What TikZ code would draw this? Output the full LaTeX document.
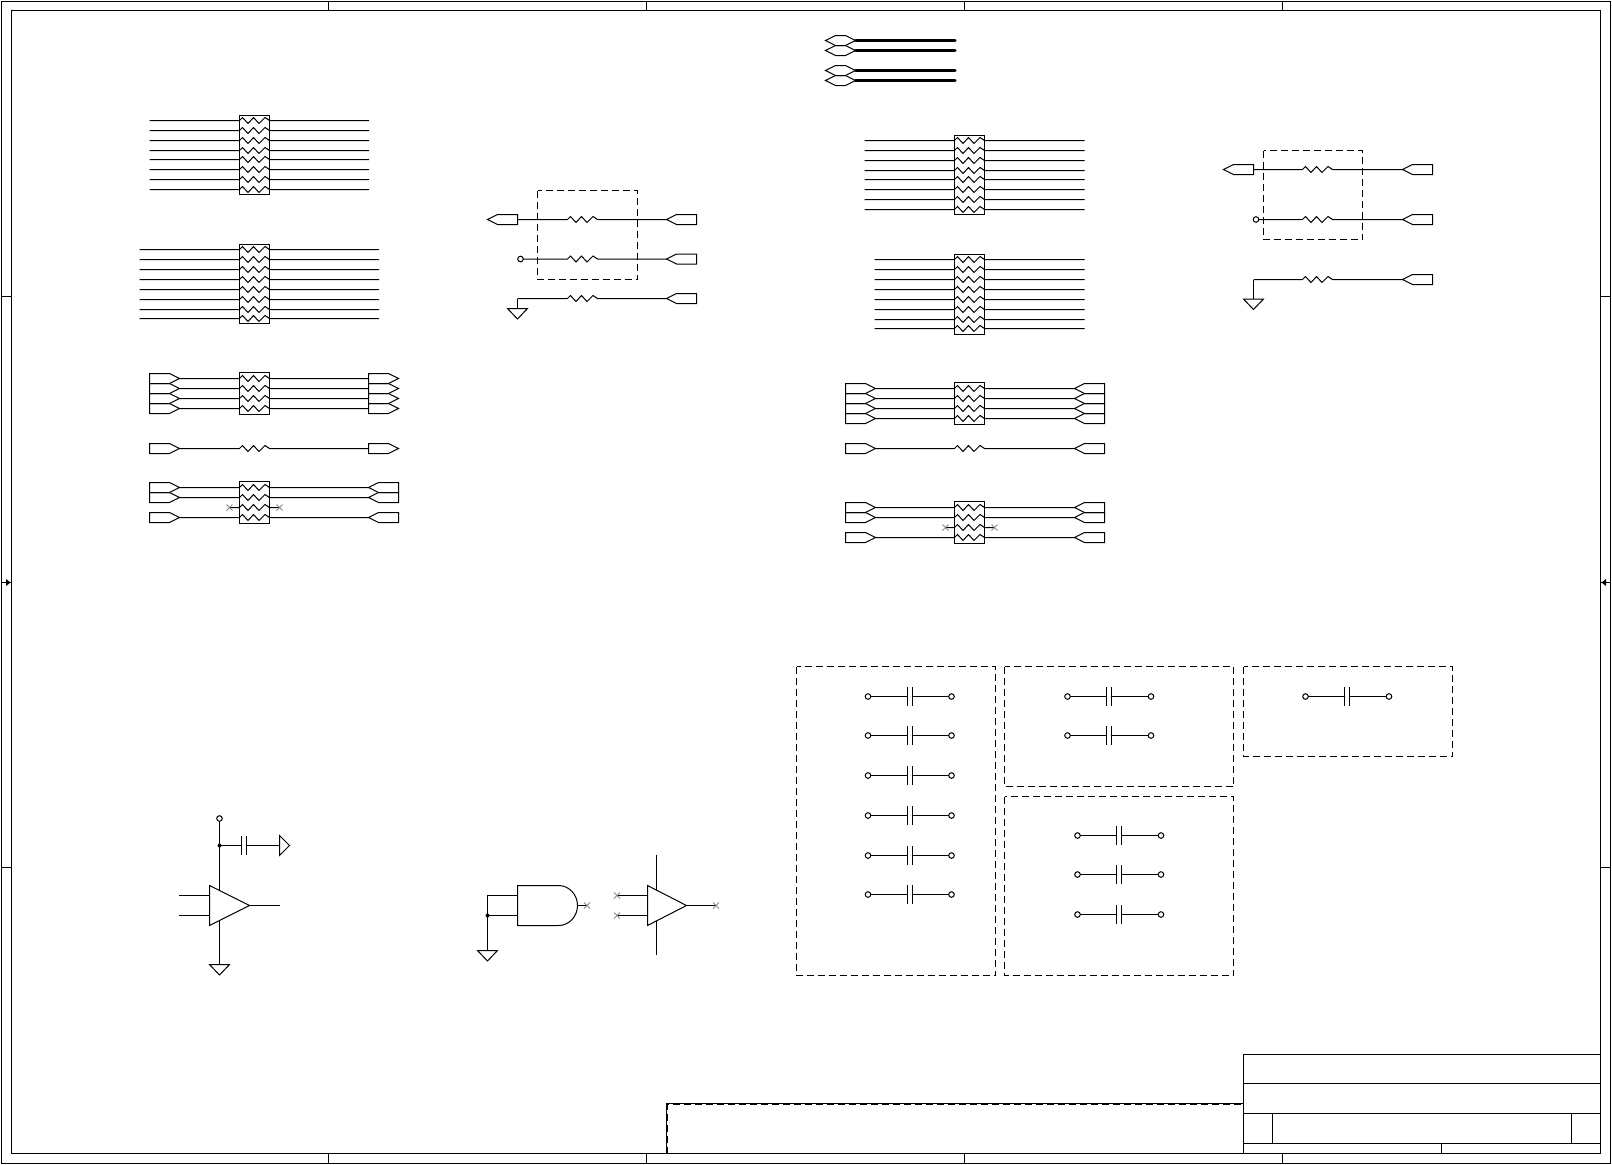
\documentclass[tikz,border=0pt]{standalone}
\tikzset{
  wire/.style={line width=0.5pt,black,line cap=butt,line join=miter},
  sym/.style={wire},
  bold/.style={line width=1.5pt,black,line cap=round},
  dashbox/.style={line width=0.5pt,black,dash pattern=on 3.5pt off 2pt},
  ncx/.style={line width=0.4pt,black!45},
  pin/.style={wire,fill=white},
  dotj/.style={black,fill=black}
}
\newcommand\zig{ -- ++(3,-3) -- ++(5.5,6) -- ++(5.5,-6) -- ++(5.5,6) -- ++(6,-6) -- ++(4.5,3)}
% name, wire start x, resistor start x, wire end x, y
\newcommand\RRow[5]{%
  \coordinate (#1-a) at (#2,#5);
  \coordinate (#1-r) at (#3,#5);
  \coordinate (#1-b) at (#4,#5);
  \draw[wire] (#1-a) -- (#1-r) \zig -- (#1-b);}
\newcommand\PortR[2]{\draw[sym] (#1,#2) ++(0,-5) -- ++(20,0) -- ++(10,5) -- ++(-10,5) -- ++(-20,0) -- cycle;}
\newcommand\PortL[2]{\draw[sym] (#1,#2) -- ++(10,-5) -- ++(20,0) -- ++(0,10) -- ++(-20,0) -- cycle;}
\newcommand\PortH[2]{\draw[sym] (#1,#2) -- ++(10,-5) -- ++(10,0) -- ++(10,5) -- ++(-10,5) -- ++(-10,0) -- cycle;}
\newcommand\Gnd[2]{\draw[sym] (#1,#2) ++(-10,0) -- ++(20,0) -- ++(-10,10.5) -- cycle;}
\newcommand\XMark[2]{\draw[ncx] (#1,#2) ++(-3,-3) -- ++(6,6) ++(-6,0) -- ++(6,-6);}
\newcommand\Pin[2]{\draw[pin] (#1,#2) circle[radius=1.4pt];}
% name, left pin x, y
\newcommand\CapRow[3]{%
  \coordinate (#1-l) at (#2,#3);
  \coordinate (#1-p) at ({#2+39},#3);
  \coordinate (#1-q) at ({#2+44},#3);
  \coordinate (#1-r) at ({#2+83.5},#3);
  \draw[wire] (#1-l) -- (#1-p) (#1-q) -- (#1-r);
  \draw[wire] (#1-p) ++(0,-9.5) -- ++(0,19) (#1-q) ++(0,-9.5) -- ++(0,19);
  \Pin{#2}{#3}\Pin{#2+83.5}{#3}}
\begin{document}
\begin{tikzpicture}[x=0.5pt,y=-0.5pt]
\useasboundingbox (0,0) rectangle (1612,1164);
\fill[white] (0,0) rectangle (1612,1164);
% frame
\draw[wire] (1.5,1.5) rectangle (1610.5,1163.5);
\draw[wire] (11.5,10.5) rectangle (1600.5,1153.5);
\foreach \x in {328.5,646.5,964.5,1282.5}{
  \draw[wire] (\x,1.5) -- (\x,10.5);
  \draw[wire] (\x,1153.5) -- (\x,1163.5);}
\foreach \y in {296.5,867.5}{
  \draw[wire] (1.5,\y) -- (11.5,\y);
  \draw[wire] (1600.5,\y) -- (1610.5,\y);}
\draw[wire] (1.5,582.5) -- (11.5,582.5);
\draw[wire] (1600.5,582.5) -- (1610.5,582.5);
\fill[black] (6,579) -- (10.5,582.5) -- (6,586) -- cycle;
\fill[black] (1606,579) -- (1601.5,582.5) -- (1606,586) -- cycle;
% title block
\draw[wire] (1243.5,1153.5) -- (1243.5,1054.5) -- (1600.5,1054.5);
\draw[wire] (1243.5,1083.5) -- (1600.5,1083.5);
\draw[wire] (1243.5,1113.5) -- (1600.5,1113.5);
\draw[wire] (1243.5,1143.5) -- (1600.5,1143.5);
\draw[wire] (1272.5,1113.5) -- (1272.5,1143.5);
\draw[wire] (1571.5,1113.5) -- (1571.5,1143.5);
\draw[wire] (1441.5,1143.5) -- (1441.5,1153.5);
\draw[wire] (666.5,1153.5) -- (666.5,1103.5) -- (1243.5,1103.5);
\draw[line width=0.8pt,dash pattern=on 3.5pt off 2pt] (667.4,1153.5) -- (667.4,1104.4) -- (1243.5,1104.4);
% top bold ports
\foreach \n/\y in {a/40.5,b/50.5,c/70.5,d/80.5}{
  \PortH{825.5}{\y}
  \coordinate (h\n-a) at (855.5,\y);
  \coordinate (h\n-b) at (955,\y);
  \draw[bold] (h\n-a) -- (h\n-b);}
% left plain buses
\draw[wire] (239.5,115.5) rectangle (269.5,194.5);
\foreach \y [count=\i] in {120.5,130.5,140.5,150.5,159.5,169.5,179.5,189.5}
  {\RRow{ba\i}{149.5}{239.5}{369}{\y}}
\draw[wire] (239.5,244.5) rectangle (269.5,323.5);
\foreach \y [count=\i] in {249.5,259.5,269.5,279.5,289.5,299.5,309.5,318.5}
  {\RRow{bb\i}{139.5}{239.5}{379}{\y}}
% left port bus
\draw[wire] (239.5,372.5) rectangle (269.5,414.5);
\foreach \y [count=\i] in {378.5,388.5,398.5,408.5}{
  \PortR{149.5}{\y}\PortR{368.5}{\y}
  \RRow{bc\i}{179.5}{239.5}{368.5}{\y}}
\PortR{149.5}{448.5}\PortR{368.5}{448.5}
\RRow{bd}{179.5}{239.5}{368.5}{448.5}
\draw[wire] (239.5,481.5) rectangle (269.5,523.5);
\foreach \y [count=\i] in {487.5,497.5,517.5}{
  \PortR{149.5}{\y}\PortL{368.5}{\y}
  \RRow{be\i}{179.5}{239.5}{368.5}{\y}}
\RRow{ben}{229.5}{239.5}{279.5}{507.5}
\XMark{229.5}{507.5}\XMark{279.5}{507.5}
% right plain buses
\draw[wire] (954.5,135.5) rectangle (984.5,214.5);
\foreach \y [count=\i] in {140.5,150.5,160.5,170.5,179.5,189.5,199.5,209.5}
  {\RRow{ca\i}{864.5}{954.5}{1084.5}{\y}}
\draw[wire] (954.5,254.5) rectangle (984.5,334.5);
\foreach \y [count=\i] in {259.5,269.5,279.5,289.5,299.5,309.5,319.5,328.5}
  {\RRow{cb\i}{874.5}{954.5}{1084.5}{\y}}
% right port bus
\draw[wire] (954.5,382.5) rectangle (984.5,424.5);
\foreach \y [count=\i] in {388.5,398.5,408.5,418.5}{
  \PortR{845.5}{\y}\PortL{1074.5}{\y}
  \RRow{cc\i}{875.5}{954.5}{1074.5}{\y}}
\PortR{845.5}{448.5}\PortL{1074.5}{448.5}
\RRow{cd}{875.5}{954.5}{1074.5}{448.5}
\draw[wire] (954.5,501.5) rectangle (984.5,543.5);
\foreach \y [count=\i] in {507.5,517.5,537.5}{
  \PortR{845.5}{\y}\PortL{1074.5}{\y}
  \RRow{ce\i}{875.5}{954.5}{1074.5}{\y}}
\RRow{cen}{945.5}{954.5}{994.5}{527.5}
\XMark{945.5}{527.5}\XMark{994.5}{527.5}
% middle resistor group
\draw[dashbox] (537.5,190.5) rectangle (637.5,279.5);
\PortL{487.5}{219.5}\PortL{666.5}{219.5}
\RRow{ma}{517.5}{567.5}{666.5}{219.5}
\PortL{666.5}{259}
\RRow{mb}{523}{567.5}{666.5}{259}
\Pin{520.5}{259}
\PortL{666.5}{298.5}
\coordinate (mg) at (517.5,308.5);
\RRow{mc}{517.5}{567.5}{666.5}{298.5}
\draw[wire] (mc-a) -- (mg);
\Gnd{517.5}{308.5}
% right resistor group
\draw[dashbox] (1263.5,150.5) rectangle (1362.5,239.5);
\PortL{1223.5}{169.5}\PortL{1402.5}{169.5}
\RRow{ra}{1253.5}{1302.5}{1402.5}{169.5}
\PortL{1402.5}{219.5}
\RRow{rb}{1258.7}{1302.5}{1402.5}{219.5}
\Pin{1256}{219.5}
\PortL{1402.5}{279.5}
\coordinate (rg) at (1253.5,299);
\RRow{rc}{1253.5}{1302.5}{1402.5}{279.5}
\draw[wire] (rc-a) -- (rg);
\Gnd{1253.5}{299}
% amplifier 1
\draw[sym] (209.5,885.5) -- (249.5,905.5) -- (209.5,925.5) -- cycle;
\coordinate (a1t) at (219.5,821);
\coordinate (a1j) at (219.5,845.5);
\coordinate (a1u) at (219.5,890.5);
\coordinate (a1d) at (219.5,920.5);
\coordinate (a1g) at (219.5,964.5);
\draw[wire] (a1t) -- (a1u);
\draw[wire] (a1d) -- (a1g);
\Pin{219.5}{818.5}
\fill[dotj] (a1j) circle[radius=1pt];
\draw[wire] (179,895.5) -- (209.5,895.5);
\draw[wire] (179,915.5) -- (209.5,915.5);
\draw[wire] (249.5,905.5) -- (279.5,905.5);
\Gnd{219.5}{964.5}
\coordinate (c1p) at (241.5,845.5);
\coordinate (c1q) at (246.5,845.5);
\coordinate (c1e) at (279.5,845.5);
\draw[wire] (a1j) -- (c1p) (c1q) -- (c1e);
\draw[wire] (c1p) ++(0,-9.5) -- ++(0,19) (c1q) ++(0,-9.5) -- ++(0,19);
\draw[sym] (279.5,835.5) -- (289.5,845.5) -- (279.5,855.5) -- cycle;
% AND gate
\draw[sym] (517.5,885.5) -- (558.5,885.5) arc[start angle=-90,end angle=90,x radius=19,y radius=20] -- (517.5,925.5) -- cycle;
\coordinate (gj) at (487.5,915.5);
\coordinate (gg) at (487.5,950.5);
\coordinate (gu) at (487.5,895.5);
\draw[wire] (517.5,895.5) -- (gu) -- (gg);
\draw[wire] (gj) -- (517.5,915.5);
\fill[dotj] (gj) circle[radius=1pt];
\Gnd{487.5}{950.5}
\draw[wire] (577.5,905.5) -- (587,905.5);
\XMark{587}{905.5}
% amplifier 2
\draw[sym] (647.5,885.5) -- (686.5,905.5) -- (647.5,925.5) -- cycle;
\draw[wire] (617,895.5) -- (647.5,895.5);
\draw[wire] (617,915.5) -- (647.5,915.5);
\draw[wire] (686.5,905.5) -- (716,905.5);
\XMark{617}{895.5}\XMark{617}{915.5}\XMark{716}{905.5}
\draw[wire] (656.5,854.5) -- (656.5,890);
\draw[wire] (656.5,921) -- (656.5,954.5);
% capacitor groups
\draw[dashbox] (796.5,666.5) rectangle (995.5,975.5);
\draw[dashbox] (1004.5,666.5) rectangle (1233.5,786.5);
\draw[dashbox] (1243.5,666.5) rectangle (1452.5,756.5);
\draw[dashbox] (1004.5,796.5) rectangle (1233.5,975.5);
\foreach \y [count=\i] in {696.5,735.5,775.5,815.5,855.5,894.5}
  {\CapRow{ka\i}{868}{\y}}
\foreach \y [count=\i] in {696.5,735.5}
  {\CapRow{kb\i}{1067.5}{\y}}
\CapRow{kc}{1305.5}{696.5}
\foreach \y [count=\i] in {835.5,874.5,914.5}
  {\CapRow{kd\i}{1077.5}{\y}}
\end{tikzpicture}
\end{document}
